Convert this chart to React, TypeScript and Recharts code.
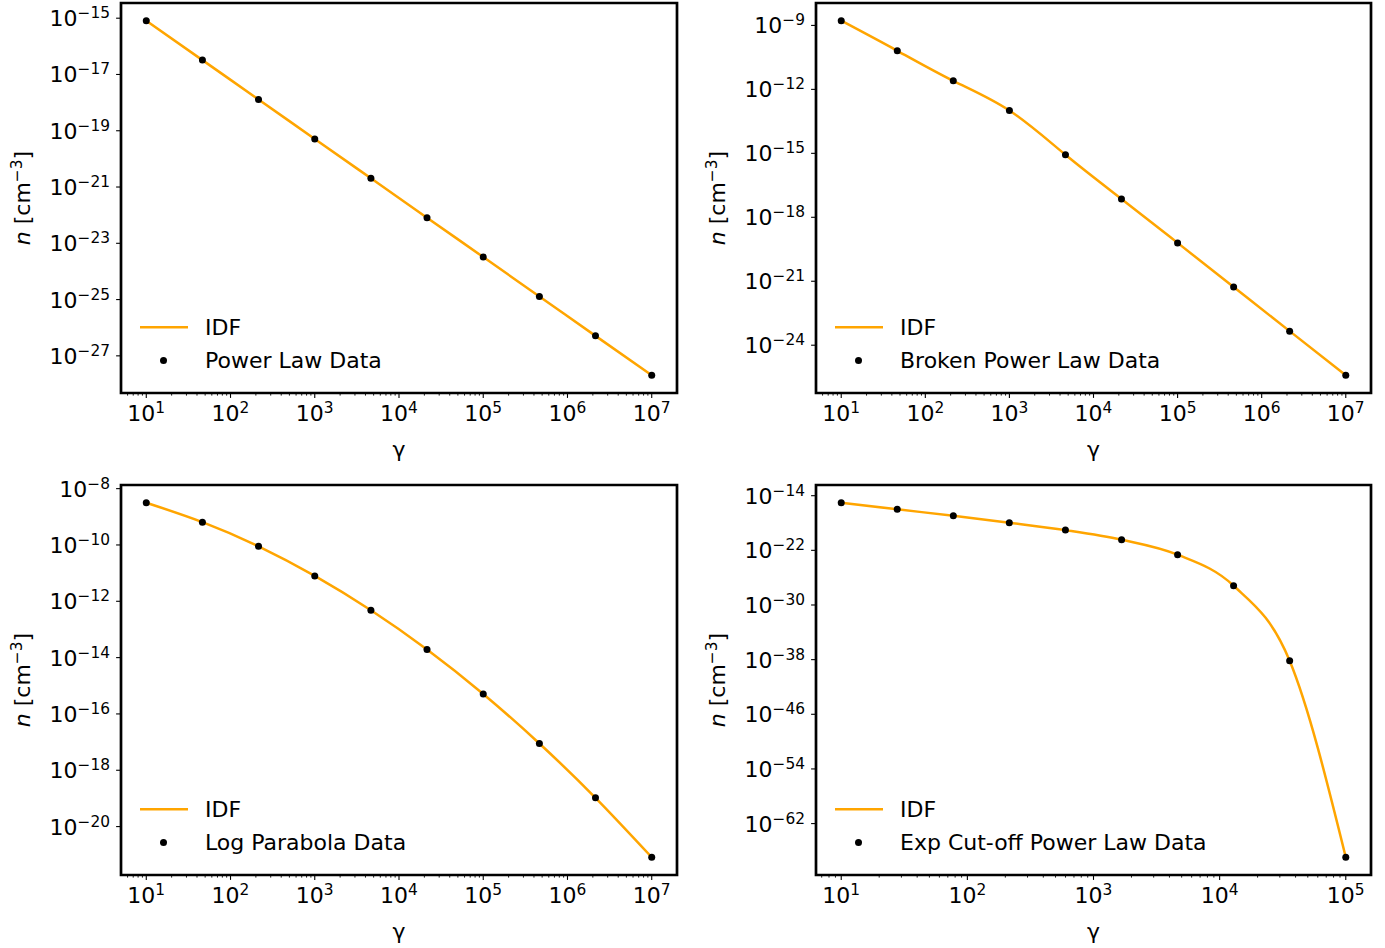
import React from "react";
import {
  ComposedChart,
  Line,
  Scatter,
  XAxis,
  YAxis,
  Legend,
  Label,
  ReferenceArea,
} from "recharts";

// Lorentz factors: three panels run 10^1..10^7, the cut-off panel 10^1..10^5
const gammaWide = [10, 46.4, 215, 1000, 4640, 21500, 1e5, 4.64e5, 2.15e6, 1e7];
const gammaCut = [10, 27.8, 77.4, 215, 599, 1670, 4640, 12900, 35900, 1e5];

// number densities
const powerLawN = [8.13e-16, 3.24e-17, 1.29e-18, 5.13e-20, 2.04e-21, 8.13e-23, 3.24e-24, 1.29e-25, 5.13e-27, 2.04e-28];
const brokenPowerLawN = [1.66e-9, 6.46e-11, 2.51e-12, 1.02e-13, 8.51e-16, 7.24e-18, 6.31e-20, 5.37e-22, 4.57e-24, 3.89e-26];
const logParabolaN = [3.16e-9, 6.46e-10, 8.91e-11, 7.94e-12, 4.79e-13, 1.95e-14, 5.13e-16, 8.91e-18, 1.05e-19, 8.13e-22];
const expCutoffN = [9.33e-16, 1.0e-16, 1.17e-17, 1.12e-18, 9.12e-20, 3.55e-21, 2.29e-23, 6.61e-28, 6.76e-39, 1.17e-67];

// tick values
const xMajorWide = [1e1, 1e2, 1e3, 1e4, 1e5, 1e6, 1e7];
const xMajorCut = [1e1, 1e2, 1e3, 1e4, 1e5];
const minorSteps = [2, 3, 4, 5, 6, 7, 8, 9];
const powerLawYTicks = [1e-15, 1e-17, 1e-19, 1e-21, 1e-23, 1e-25, 1e-27];
const brokenYTicks = [1e-9, 1e-12, 1e-15, 1e-18, 1e-21, 1e-24];
const logParabolaYTicks = [1e-8, 1e-10, 1e-12, 1e-14, 1e-16, 1e-18, 1e-20];
const expCutoffYTicks = [1e-14, 1e-22, 1e-30, 1e-38, 1e-46, 1e-54, 1e-62];

const FONT = "DejaVu Sans";
const ORANGE = "#FFA500";

// matplotlib-style 5% padding in log space
function logDomain(values: number[]): [number, number] {
  const lo = Math.log10(Math.min(...values));
  const hi = Math.log10(Math.max(...values));
  const pad = (hi - lo) * 0.05;
  return [10 ** (lo - pad), 10 ** (hi + pad)];
}

function withMinorTicks(majors: number[], domain: [number, number]) {
  const out: number[] = [];
  const first = Math.floor(Math.log10(domain[0]));
  const last = Math.ceil(Math.log10(domain[1]));
  for (let d = first; d <= last; d++) {
    const base = 10 ** d;
    if (majors.includes(base)) out.push(base);
    minorSteps.forEach((m) => out.push(m * base));
  }
  return out.filter((v) => v >= domain[0] && v <= domain[1]);
}

const isDecade = (v: number) => {
  const e = Math.log10(v);
  return Math.abs(e - Math.round(e)) < 1e-6;
};

function XTick({ x, y, payload }: any) {
  const v = payload.value;
  if (!isDecade(v)) {
    return <line x1={x} x2={x} y1={y} y2={y + 2.6} stroke="#000" strokeWidth={0.9} />;
  }
  const e = Math.round(Math.log10(v));
  return (
    <g>
      <line x1={x} x2={x} y1={y} y2={y + 4.9} stroke="#000" strokeWidth={1.1} />
      <text x={x} y={y + 28} textAnchor="middle" fontFamily={FONT} fontSize={22} fill="#000">
        10<tspan dy={-8} fontSize={15.4}>{String(e).replace("-", "\u2212")}</tspan>
      </text>
    </g>
  );
}

function YTick({ x, y, payload }: any) {
  const e = Math.round(Math.log10(payload.value));
  return (
    <g>
      <line x1={x - 4.9} x2={x} y1={y} y2={y} stroke="#000" strokeWidth={1.1} />
      <text x={x - 11} y={y + 8} textAnchor="end" fontFamily={FONT} fontSize={22} fill="#000">
        10<tspan dy={-8} fontSize={15.4}>{String(e).replace("-", "\u2212")}</tspan>
      </text>
    </g>
  );
}

function GammaLabel({ viewBox }: any) {
  return (
    <text
      x={viewBox.x + viewBox.width / 2}
      y={viewBox.y + 64}
      textAnchor="middle"
      fontFamily={FONT}
      fontSize={22}
      fill="#000"
    >
      γ
    </text>
  );
}

function DensityLabel({ viewBox }: any) {
  const cx = viewBox.x + 30;
  const cy = viewBox.y + viewBox.height / 2;
  return (
    <text
      x={cx}
      y={cy}
      transform={`rotate(-90 ${cx} ${cy})`}
      textAnchor="middle"
      fontFamily={FONT}
      fontSize={22}
      fill="#000"
    >
      <tspan fontStyle="italic">n</tspan>
      <tspan> [cm</tspan>
      <tspan dy={-8} fontSize={15.4}>{"\u22123"}</tspan>
      <tspan dy={8}>]</tspan>
    </text>
  );
}

function LegendBox({ payload }: any) {
  const items = payload ?? [];
  return (
    <svg width={520} height={80} style={{ display: "block" }}>
      {items.map((it: any) => {
        const isLine = it.type === "line";
        const cy = isLine ? 14.3 : 47.6;
        return (
          <g key={it.value}>
            {isLine ? (
              <line x1={19} x2={67} y1={cy} y2={cy} stroke={it.color || ORANGE} strokeWidth={2.5} />
            ) : (
              <circle cx={42.5} cy={cy} r={3.5} fill="#000" />
            )}
            <text x={84} y={cy + 7.8} fontFamily={FONT} fontSize={22} fill="#000">
              {it.value}
            </text>
          </g>
        );
      })}
    </svg>
  );
}

const DataDot = (p: any) => <circle cx={p.cx} cy={p.cy} r={3.5} fill="#000" />;

interface PanelProps {
  gamma: number[];
  n: number[];
  name: string;
  curve: "monotone" | "natural";
  xMajor: number[];
  yTicks: number[];
  left: number;
  top: number;
  width: number;
  height: number;
  marginTop: number;
  marginRight: number;
  xAxisHeight: number;
}

function Panel(props: PanelProps) {
  const { gamma, n, name, curve, xMajor, yTicks, left, top, width, height, marginTop, marginRight, xAxisHeight } = props;
  const rows = gamma.map((g, i) => ({ g, n: n[i] }));
  const xDom = logDomain(gamma);
  const yDom = logDomain(n);
  const xTicks = withMinorTicks(xMajor, xDom);

  return (
    <div style={{ position: "absolute", left, top }}>
      <ComposedChart
        width={width}
        height={height}
        data={rows}
        margin={{ top: marginTop, right: marginRight, left: 0, bottom: 0 }}
      >
        <XAxis
          dataKey="g"
          type="number"
          scale="log"
          domain={xDom}
          allowDataOverflow
          ticks={xTicks}
          interval={0}
          tickSize={0}
          tickMargin={0}
          tickLine={false}
          tick={XTick}
          axisLine={false}
          height={xAxisHeight}
        >
          <Label content={GammaLabel} />
        </XAxis>
        <YAxis
          type="number"
          scale="log"
          domain={yDom}
          allowDataOverflow
          ticks={yTicks}
          interval={0}
          tickSize={0}
          tickMargin={0}
          tickLine={false}
          tick={YTick}
          axisLine={false}
          width={121}
        >
          <Label content={DensityLabel} />
        </YAxis>
        <Line
          dataKey="n"
          name="IDF"
          type={curve}
          stroke={ORANGE}
          strokeWidth={2.5}
          dot={false}
          legendType="line"
          isAnimationActive={false}
        />
        <Scatter
          data={rows}
          dataKey="n"
          name={name}
          fill="#000"
          shape={DataDot}
          legendType="circle"
          isAnimationActive={false}
        />
        {/* axes frame */}
        <ReferenceArea
          x1={xDom[0]}
          x2={xDom[1]}
          y1={yDom[0]}
          y2={yDom[1]}
          ifOverflow="visible"
          fill="none"
          fillOpacity={0}
          stroke="#000"
          strokeWidth={2.7}
          strokeOpacity={1}
        />
        <Legend
          layout="vertical"
          align="center"
          verticalAlign="middle"
          wrapperStyle={{ left: 121, top: height - xAxisHeight - 80, width: 520, height: 80 }}
          content={LegendBox}
        />
      </ComposedChart>
    </div>
  );
}

export default function App() {
  return (
    <div
      style={{
        position: "absolute",
        left: 0,
        top: 0,
        width: 1385,
        height: 948,
        overflow: "hidden",
        background: "#fff",
      }}
    >
      <Panel
        gamma={gammaWide}
        n={powerLawN}
        name="Power Law Data"
        curve="monotone"
        xMajor={xMajorWide}
        yTicks={powerLawYTicks}
        left={0}
        top={0}
        width={693}
        height={474}
        marginTop={3}
        marginRight={16}
        xAxisHeight={81}
      />
      <Panel
        gamma={gammaWide}
        n={brokenPowerLawN}
        name="Broken Power Law Data"
        curve="natural"
        xMajor={xMajorWide}
        yTicks={brokenYTicks}
        left={695}
        top={0}
        width={690}
        height={474}
        marginTop={3}
        marginRight={14}
        xAxisHeight={81}
      />
      <Panel
        gamma={gammaWide}
        n={logParabolaN}
        name="Log Parabola Data"
        curve="natural"
        xMajor={xMajorWide}
        yTicks={logParabolaYTicks}
        left={0}
        top={470}
        width={693}
        height={478}
        marginTop={15}
        marginRight={16}
        xAxisHeight={73}
      />
      <Panel
        gamma={gammaCut}
        n={expCutoffN}
        name="Exp Cut-off Power Law Data"
        curve="monotone"
        xMajor={xMajorCut}
        yTicks={expCutoffYTicks}
        left={695}
        top={470}
        width={690}
        height={478}
        marginTop={15}
        marginRight={14}
        xAxisHeight={73}
      />
    </div>
  );
}
